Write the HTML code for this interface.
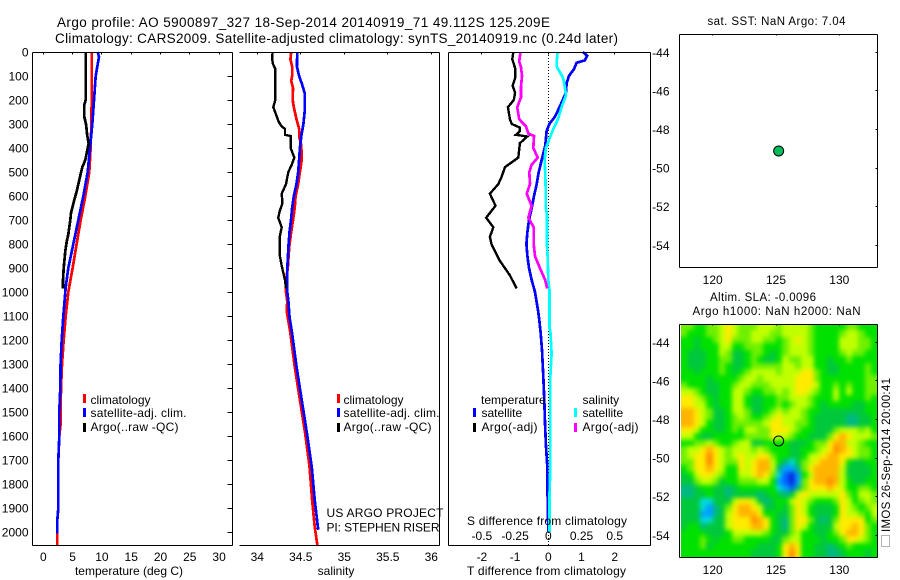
<!DOCTYPE html>
<html>
<head>
<meta charset="utf-8">
<title>Argo profile 5900897_327</title>
<style>
html,body{margin:0;padding:0;background:#fff;}
svg{display:block;}
text{font-family:"Liberation Sans",sans-serif;font-size:12px;fill:#000;}
.t{font-size:13.5px;}
.r{font-size:11.5px;}
</style>
</head>
<body>
<svg id="chart" xmlns="http://www.w3.org/2000/svg" width="900" height="580" viewBox="0 0 900 580">
<defs>
<clipPath id="heatClip"><rect x="681" y="325" width="196" height="232"/></clipPath>
<filter id="heatBlur" x="-10%" y="-10%" width="120%" height="120%" color-interpolation-filters="sRGB"><feGaussianBlur stdDeviation="2.4"/></filter>
</defs>
<rect x="0" y="0" width="900" height="580" fill="#fff"/>
<text class="t" x="57" y="27" textLength="493" lengthAdjust="spacing">Argo profile: AO 5900897_327 18-Sep-2014 20140919_71 49.112S 125.209E</text>
<text class="t" x="55" y="43" textLength="563" lengthAdjust="spacing">Climatology: CARS2009. Satellite-adjusted climatology: synTS_20140919.nc (0.24d later)</text>

<g clip-path="url(#heatClip)">
<g id="heat" filter="url(#heatBlur)"></g>
</g>
<g id="series"></g>
<g id="axes"></g>

<text x="129" y="575" text-anchor="middle">temperature (deg C)</text>
<text x="336" y="575" text-anchor="middle">salinity</text>
<text x="546.5" y="575" text-anchor="middle" textLength="159" lengthAdjust="spacing">T difference from climatology</text>
<text x="547" y="525" text-anchor="middle" textLength="160" lengthAdjust="spacing">S difference from climatology</text>

<g>
<rect x="83" y="394" width="3" height="9" fill="#f00"/>
<text x="90.5" y="404">climatology</text>
<rect x="83" y="408" width="3" height="9" fill="#00f"/>
<text x="90.5" y="417" textLength="96" lengthAdjust="spacing">satellite-adj. clim.</text>
<rect x="83" y="423" width="3" height="9" fill="#000"/>
<text x="90.5" y="431" textLength="88" lengthAdjust="spacing">Argo(..raw -QC)</text>
</g>
<g>
<rect x="337" y="394" width="3" height="9" fill="#f00"/>
<text x="343.5" y="404">climatology</text>
<rect x="337" y="408" width="3" height="9" fill="#00f"/>
<text x="343.5" y="417" textLength="96" lengthAdjust="spacing">satellite-adj. clim.</text>
<rect x="337" y="423" width="3" height="9" fill="#000"/>
<text x="343.5" y="431" textLength="88" lengthAdjust="spacing">Argo(..raw -QC)</text>
</g>
<g>
<text x="481" y="404">temperature</text>
<rect x="473" y="408" width="3" height="9" fill="#00f"/>
<text x="481.5" y="417">satellite</text>
<rect x="473" y="423" width="3" height="9" fill="#000"/>
<text x="481.5" y="431" textLength="56" lengthAdjust="spacing">Argo(-adj)</text>
<text x="582.5" y="404">salinity</text>
<rect x="574" y="408" width="3" height="9" fill="#0ff"/>
<text x="582.5" y="417">satellite</text>
<rect x="574" y="423" width="3" height="9" fill="#f0f"/>
<text x="582.5" y="431" textLength="56" lengthAdjust="spacing">Argo(-adj)</text>
</g>

<text x="326.5" y="517" textLength="117" lengthAdjust="spacing">US ARGO PROJECT</text>
<text x="326.5" y="531.5" textLength="113" lengthAdjust="spacing">PI: STEPHEN RISER</text>

<text class="r" x="707.5" y="25" textLength="138" lengthAdjust="spacing">sat. SST: NaN Argo: 7.04</text>
<text class="r" x="710" y="301" textLength="106" lengthAdjust="spacing">Altim. SLA: -0.0096</text>
<text class="r" x="692.5" y="315" textLength="168" lengthAdjust="spacing">Argo h1000: NaN h2000: NaN</text>

<rect x="881.5" y="535.5" width="8" height="11" fill="none" stroke="#666" stroke-width="1" stroke-dasharray="1 1" shape-rendering="crispEdges"/>
<text class="r" transform="translate(890,532) rotate(-90)" textLength="154" lengthAdjust="spacing">IMOS 26-Sep-2014 20:00:41</text>
</svg>

<script>
// ---- temperature profile data (deg C vs depth) ----
const tempClimDepth = [0,100,200,300,400,500,600,700,800,900,1000,1100,1200,1300,1400,1500,1550,1600,1700,1900,1950,2053];
const tempClim = [8.26,8.26,8.26,8.2,8.08,7.85,7.17,6.38,5.69,5.0,4.27,3.82,3.48,3.19,3.02,2.96,2.96,2.73,2.56,2.56,2.39,2.39];
const tempSatDepth = [0,20,100,200,300,400,500,600,700,800,900,980,1100,1200,1300,1400,1500,1600,1700,1900,1950,2005];
const tempSat = [9.28,9.5,8.94,8.65,8.37,7.97,7.57,6.83,5.97,5.12,4.27,3.82,3.42,3.14,2.96,2.9,2.73,2.73,2.56,2.56,2.39,2.39];
const tempArgoDepth = [0,200,220,270,300,350,380,450,480,520,580,620,670,700,760,790,830,900,950,985];
const tempArgo = [7.23,7.23,7.0,7.0,7.28,7.5,7.74,7.17,6.66,6.26,5.7,5.24,4.73,4.6,4.27,3.99,3.76,3.48,3.36,3.36];

// ---- salinity profile data ----
const salClimDepth = [0,30,60,100,120,150,200,230,280,320,350,390,450,500,550,600,650,700,750,800,850,900,950,1000,1040,1075,1172,1310,1449,1587,1726,1865,1976,2053];
const salClim = [34.39,34.38,34.40,34.40,34.39,34.41,34.407,34.42,34.45,34.48,34.48,34.506,34.51,34.49,34.47,34.44,34.43,34.41,34.39,34.37,34.36,34.35,34.33,34.33,34.345,34.337,34.38,34.43,34.49,34.55,34.6,34.63,34.66,34.69];
const salSatDepth = [0,60,100,130,170,250,300,350,400,450,500,550,600,650,700,750,800,900,1000,1033,1103,1172,1310,1449,1587,1726,1865,1990];
const salSat = [34.46,34.455,34.48,34.51,34.544,34.544,34.53,34.506,34.49,34.48,34.47,34.45,34.42,34.40,34.387,34.37,34.36,34.345,34.345,34.356,34.37,34.40,34.45,34.51,34.57,34.625,34.66,34.70];
const salArgoDepth = [0,30,50,70,200,230,260,290,310,320,345,350,400,440,470,500,550,590,630,660,690,730,770,850,890,950,985];
const salArgo = [34.176,34.17,34.18,34.207,34.207,34.184,34.215,34.245,34.28,34.318,34.318,34.383,34.383,34.425,34.395,34.356,34.33,34.28,34.29,34.26,34.24,34.28,34.257,34.26,34.28,34.318,34.33];

// ---- difference profile data ----
const dtSatDepth = [0,15,35,45,70,100,130,170,220,270,300,330,390,450,500,550,600,650,700,750,800,850,900,950,1000,1033,1075,1117,1172,1241,1352,1449,1546,1643,1726,1851,1997];
const dtSat = [1.04,1.17,1.1,0.85,0.78,0.62,0.55,0.53,0.37,0.2,0.03,-0.05,-0.09,-0.2,-0.29,-0.35,-0.43,-0.5,-0.58,-0.63,-0.66,-0.63,-0.58,-0.5,-0.4,-0.36,-0.31,-0.27,-0.23,-0.19,-0.15,-0.12,-0.10,-0.07,-0.03,-0.02,0];
const dtArgoDepth = [0,30,70,110,140,170,200,230,280,300,315,330,345,352,380,440,480,520,550,590,640,690,730,770,800,870,930,985];
const dtArgo = [-1.055,-1.085,-0.995,-1.0,-1.075,-1.0,-1.04,-1.216,-1.156,-1.1,-0.854,-0.854,-0.975,-0.633,-0.854,-0.905,-1.307,-1.407,-1.507,-1.76,-1.59,-1.87,-1.658,-1.76,-1.71,-1.457,-1.156,-0.955];
const dsSatDepth = [0,40,60,80,110,150,180,230,280,320,370,400,450,500,600,640,680,800,850,950,990,1150,1160,1255,1355,1730,1860,2000];
const dsSat = [0.07,0.063,0.063,0.083,0.113,0.126,0.133,0.1,0.073,0.038,0.003,-0.018,-0.028,-0.023,-0.018,-0.02,-0.01,-0.01,-0.005,0,0.008,0.008,0.015,0.025,0.015,0.015,0.008,0.008];
const dsArgoDepth = [0,40,60,100,150,190,230,280,310,340,350,400,440,470,500,550,590,640,690,730,800,850,900,950,985];
const dsArgo = [-0.209,-0.219,-0.206,-0.198,-0.206,-0.206,-0.234,-0.219,-0.168,-0.15,-0.108,-0.113,-0.08,-0.126,-0.143,-0.138,-0.163,-0.126,-0.15,-0.11,-0.11,-0.1,-0.063,-0.023,-0.008];

// ---- tick labels ----
const depthTicks = [0,100,200,300,400,500,600,700,800,900,1000,1100,1200,1300,1400,1500,1600,1700,1800,1900,2000];
const tempTicks = [0,5,10,15,20,25,30];
const salTicks = [34,34.5,35,35.5,36];
const dtTicks = [-2,-1,0,1,2];
const dtTopTicks = [-2,0,2];
const dsTicks = [-0.5,-0.25,0,0.25,0.5];
const lonTicks = [120,125,130];
const latTicks = [-44,-46,-48,-50,-52,-54];

// ---- float position ----
const floatLon = 125.209;
const floatLat = -49.112;

// ---- SLA map: colour level per cell, rows north to south, columns west to east ----
const slaLon0 = 117.5;
const slaLonStep = 0.5;
const slaLat0 = -43.05;
const slaLatStep = -1/3;
const slaGrid = [
[7,7,6,6,7,7,8,9,8,7,7,7,8,8,8,7,8,8,8,8,7,6,6,6,6,6,7,7,6,6,6],
[7,6,6,6,7,7,8,9,8,7,7,8,8,8,7,7,8,8,8,8,7,6,6,6,6,7,8,8,7,6,6],
[6,6,5,6,6,7,8,9,7,7,7,8,8,7,7,6,7,8,9,8,7,6,6,6,6,8,8,8,7,7,6],
[6,6,5,6,6,6,8,8,6,6,7,7,7,6,6,6,7,8,8,8,7,6,6,6,6,8,8,8,7,7,6],
[6,5,5,5,6,6,8,7,5,5,6,7,7,6,5,6,7,8,8,8,7,6,6,6,6,7,8,7,7,6,6],
[6,5,5,5,6,6,7,7,5,5,6,7,6,5,5,6,8,7,7,8,8,6,6,5,6,6,7,6,6,6,6],
[6,5,5,5,6,6,7,6,5,5,6,7,7,7,7,7,8,8,7,8,8,6,6,5,5,6,6,6,6,7,6],
[6,6,5,6,6,6,7,6,5,6,7,8,8,8,8,7,8,8,8,9,9,7,6,5,5,6,6,6,6,7,6],
[6,6,6,6,5,6,6,6,6,7,8,8,7,8,8,8,8,8,9,9,9,7,6,6,6,6,6,6,6,7,7],
[7,6,6,6,5,5,6,6,7,8,8,7,7,7,8,8,8,8,9,9,9,8,6,6,7,6,7,6,6,7,7],
[8,8,7,6,5,5,6,6,8,8,7,6,6,7,7,8,7,8,9,9,8,7,6,6,8,6,8,6,6,7,7],
[9,9,8,7,6,5,6,6,8,8,6,5,5,6,6,7,7,8,8,8,7,6,6,6,8,6,6,6,6,7,6],
[9,9,8,8,6,5,6,6,8,8,6,5,5,6,6,7,6,7,8,8,7,6,5,6,6,6,6,5,5,6,6],
[10,10,9,8,7,5,5,6,8,8,7,5,5,6,7,8,7,8,8,7,6,6,5,5,5,5,5,5,5,6,6],
[10,10,9,8,7,5,5,6,7,8,7,6,6,7,8,9,8,8,8,7,6,5,5,5,5,5,4,4,5,5,6],
[10,10,9,8,6,5,5,6,7,7,7,7,7,8,9,9,8,8,7,7,6,5,5,5,5,5,4,4,5,5,6],
[9,9,8,6,6,5,5,6,7,6,8,8,7,7,9,9,9,8,7,6,6,5,5,5,7,8,8,8,7,8,6],
[8,8,6,5,5,6,6,6,6,6,7,7,7,7,9,8,8,7,6,6,5,5,5,7,9,10,9,8,8,8,7],
[6,6,7,7,8,7,6,6,7,8,8,5,5,6,6,6,6,5,5,5,6,7,7,9,10,10,8,8,7,6,6],
[7,8,8,9,10,9,8,7,8,8,8,7,8,7,6,6,6,5,5,6,6,7,8,9,11,10,9,8,7,7,6],
[7,8,9,9,11,9,8,7,8,9,8,8,9,9,7,6,6,5,5,6,8,8,9,10,10,9,9,8,7,7,6],
[7,7,9,9,11,9,8,7,7,9,8,9,10,10,8,6,4,3,5,7,8,9,10,10,10,9,6,5,5,6,6],
[6,7,9,9,10,9,8,6,6,9,8,9,10,10,8,4,2,2,4,7,9,10,10,10,10,8,5,5,5,5,6],
[5,6,8,9,9,8,7,6,6,8,8,9,10,9,7,3,1,0,2,6,8,10,10,10,10,8,5,5,5,5,6],
[5,5,7,8,8,7,5,6,6,7,7,7,8,8,6,2,1,0,2,7,9,10,10,11,10,8,6,5,5,6,6],
[4,4,5,6,6,5,5,4,5,6,6,6,6,6,6,3,2,1,4,7,9,9,9,10,9,8,6,6,7,7,6],
[4,4,5,5,6,5,5,4,5,5,5,5,4,5,6,5,4,5,8,9,8,8,8,8,8,9,7,6,8,8,7],
[5,5,5,3,3,5,5,5,8,9,9,8,5,4,5,6,6,8,9,8,7,6,6,6,7,9,8,6,7,8,7],
[5,5,5,3,2,4,5,7,9,10,10,9,8,5,5,6,5,7,9,8,6,5,5,5,6,9,8,7,6,7,8],
[5,5,5,2,2,4,5,8,9,10,10,10,9,6,6,5,5,7,9,8,6,5,5,5,6,9,8,8,7,6,8],
[5,5,5,3,3,5,5,8,9,9,9,11,10,9,6,5,4,7,9,9,7,5,4,5,7,9,9,9,9,6,7],
[5,6,6,4,5,5,5,8,9,9,9,10,10,9,6,5,4,7,9,8,6,5,5,5,8,9,9,10,9,7,6],
[6,6,6,6,5,5,5,6,8,8,8,8,8,7,6,5,5,7,8,6,6,5,5,6,7,9,10,10,9,7,6],
[6,6,6,7,6,5,6,6,7,7,6,6,6,6,5,5,7,8,8,6,6,6,5,6,6,7,9,9,8,7,6],
[6,6,6,7,5,6,6,6,6,6,6,6,5,5,5,6,9,10,9,6,6,5,5,4,5,6,7,6,6,6,6],
[6,6,6,6,6,6,6,6,6,6,6,5,5,5,5,6,9,11,9,6,6,5,5,4,4,5,6,6,6,5,6]
];
const levelColors = ["#0a28dc","#0064ff","#00a0ff","#00dcdc","#00b982","#00c83c","#00e100","#6ef000","#c0ff00","#ffeb00","#ffb400","#ff8c00"];

// ---- axis functions ----
const NS = "http://www.w3.org/2000/svg";
const PT = 52, PB = 545;
const yDepth = d => 52 + d * 0.2401;
const xTemp = t => 43.3 + t * 5.86;
const xSal = s => 257.3 + (s - 34) * 87;
const xDT = t => 548.3 + t * 33.2;
const xDS = s => 548.3 + s * 132.8;
const xLon = l => 712.7 + (l - 120) * 12.66;
const ySST = l => 52.3 + (-44 - l) * 19.3;
const ySLA = l => 342.3 + (-44 - l) * 19.3;

const axesG = document.getElementById("axes");
const seriesG = document.getElementById("series");
const heatG = document.getElementById("heat");

function addLine(x1, y1, x2, y2, name) {
  const el = document.createElementNS(NS, "line");
  el.setAttribute("x1", Math.floor(x1) + 0.5);
  el.setAttribute("y1", Math.floor(y1) + 0.5);
  el.setAttribute("x2", Math.floor(x2) + 0.5);
  el.setAttribute("y2", Math.floor(y2) + 0.5);
  el.setAttribute("stroke", "#000");
  el.setAttribute("stroke-width", "1");
  el.setAttribute("shape-rendering", "crispEdges");
  
  
  axesG.appendChild(el);
}
function addLabel(x, y, str, anchor, name, cls) {
  const el = document.createElementNS(NS, "text");
  el.setAttribute("x", x);
  el.setAttribute("y", y);
  el.setAttribute("text-anchor", anchor);
  if (cls) el.setAttribute("class", cls);
  el.textContent = str;
  
  
  axesG.appendChild(el);
}
function addSeries(depths, values, xf, color, width, name) {
  const el = document.createElementNS(NS, "polyline");
  const pts = depths.map((d, i) => xf(values[i]).toFixed(1) + "," + yDepth(d).toFixed(1));
  el.setAttribute("points", pts.join(" "));
  el.setAttribute("fill", "none");
  el.setAttribute("stroke", color);
  el.setAttribute("stroke-width", width);
  el.setAttribute("shape-rendering", "crispEdges");
  
  
  seriesG.appendChild(el);
}

// heatmap cells (edge cells overhang the clip so the smoothing does not fade at the border)
const xCell = i => xLon(slaLon0 + i * slaLonStep);
const yCell = j => ySLA(slaLat0 + j * slaLatStep);
slaGrid.forEach((row, j) => {
  row.forEach((level, i) => {
    const el = document.createElementNS(NS, "rect");
    const x0 = Math.round(xCell(i)) - (i === 0 ? 12 : 0);
    const x1 = Math.round(xCell(i + 1)) + (i === row.length - 1 ? 12 : 0);
    const y0 = Math.round(yCell(j)) - (j === 0 ? 12 : 0);
    const y1 = Math.round(yCell(j + 1)) + (j === slaGrid.length - 1 ? 12 : 0);
    el.setAttribute("x", x0);
    el.setAttribute("y", y0);
    el.setAttribute("width", x1 - x0);
    el.setAttribute("height", y1 - y0);
    el.setAttribute("fill", levelColors[level]);
    el.setAttribute("shape-rendering", "crispEdges");
    
    
    heatG.appendChild(el);
  });
});

// zero line of difference panel
const zeroLine = document.createElementNS(NS, "line");
zeroLine.setAttribute("x1", 548.5);
zeroLine.setAttribute("x2", 548.5);
zeroLine.setAttribute("y1", PT);
zeroLine.setAttribute("y2", PB);
zeroLine.setAttribute("stroke", "#000");
zeroLine.setAttribute("stroke-width", "1");
zeroLine.setAttribute("stroke-dasharray", "1 2");
zeroLine.setAttribute("shape-rendering", "crispEdges");


seriesG.appendChild(zeroLine);

// profile series
addSeries(tempClimDepth, tempClim, xTemp, "#f00", 2.7, "temperature-climatology-line");
addSeries(tempSatDepth, tempSat, xTemp, "#00f", 2.7, "temperature-satellite-line");
addSeries(tempArgoDepth, tempArgo, xTemp, "#000", 2.7, "temperature-argo-line");
addSeries(salClimDepth, salClim, xSal, "#f00", 2.7, "salinity-climatology-line");
addSeries(salSatDepth, salSat, xSal, "#00f", 2.7, "salinity-satellite-line");
addSeries(salArgoDepth, salArgo, xSal, "#000", 2.4, "salinity-argo-line");
addSeries(dtSatDepth, dtSat, xDT, "#00f", 2.7, "t-difference-satellite-line");
addSeries(dtArgoDepth, dtArgo, xDT, "#000", 2.4, "t-difference-argo-line");
addSeries(dsSatDepth, dsSat, xDS, "#0ff", 2.7, "s-difference-satellite-line");
addSeries(dsArgoDepth, dsArgo, xDS, "#f0f", 2.7, "s-difference-argo-line");

// panel frames
addLine(32, PT, 232, PT, "temperature-top-axis");
addLine(32, PB, 232, PB, "temperature-bottom-axis");
addLine(32, PT, 32, PB, "temperature-left-axis");
addLine(232, PT, 232, PB, "temperature-right-axis");
addLine(239, PT, 439, PT, "salinity-top-axis");
addLine(239, PB, 439, PB, "salinity-bottom-axis");
addLine(439, PT, 439, PB, "salinity-right-axis");
addLine(448, PT, 650, PT, "difference-top-axis");
addLine(448, PB, 650, PB, "difference-bottom-axis");
addLine(448, PT, 448, PB, "difference-left-axis");
addLine(650, PT, 650, PB, "difference-right-axis");

// depth ticks
depthTicks.forEach(d => {
  addLine(227, yDepth(d), 232, yDepth(d), "depth-tick");
  addLabel(28.5, yDepth(d) + 4.5, String(d), "end", "depth-tick-label");
});
// x ticks
tempTicks.forEach(v => {
  addLine(xTemp(v), PT, xTemp(v), PT + 2, "temperature-tick");
  addLabel(xTemp(v), 561, String(v), "middle", "temperature-tick-label");
});
salTicks.forEach(v => {
  addLine(xSal(v), PT, xSal(v), PT + 2, "salinity-tick");
  addLabel(xSal(v), 561, String(v), "middle", "salinity-tick-label");
});
dtTicks.forEach(v => {
  addLabel(xDT(v), 561, String(v), "middle", "t-difference-tick-label");
});
dtTopTicks.forEach(v => {
  addLine(xDT(v), PT, xDT(v), PT + 2, "t-difference-tick");
});
dsTicks.forEach(v => {
  addLabel(xDS(v), 540, String(v), "middle", "s-difference-tick-label");
});

// map panels
[[34, 267, ySST, 284, "sst"], [324, 557, ySLA, 574, "sla"]].forEach(p => {
  const top = p[0], bot = p[1], yf = p[2], lab = p[3], nm = p[4];
  addLine(679, top, 877, top, nm + "-top-axis");
  addLine(679, bot, 877, bot, nm + "-bottom-axis");
  addLine(679, top, 679, bot, nm + "-left-axis");
  addLine(877, top, 877, bot, nm + "-right-axis");
  lonTicks.forEach(v => {
    addLine(xLon(v), top, xLon(v), top + 1, nm + "-lon-tick");
    addLabel(xLon(v), lab, String(v), "middle", nm + "-lon-tick-label");
  });
  latTicks.forEach(v => {
    addLine(875, yf(v), 877, yf(v), nm + "-lat-tick");
    addLabel(669.5, yf(v) + 4.5, String(v), "end", nm + "-lat-tick-label");
  });
});

// float position markers
const sstDot = document.createElementNS(NS, "circle");
sstDot.setAttribute("cx", xLon(floatLon));
sstDot.setAttribute("cy", ySST(floatLat));
sstDot.setAttribute("r", 5);
sstDot.setAttribute("fill", "#00be5a");
sstDot.setAttribute("stroke", "#000");
sstDot.setAttribute("stroke-width", 1);


axesG.appendChild(sstDot);

const slaDot = document.createElementNS(NS, "circle");
slaDot.setAttribute("cx", xLon(floatLon));
slaDot.setAttribute("cy", ySLA(floatLat));
slaDot.setAttribute("r", 5);
slaDot.setAttribute("fill", "none");
slaDot.setAttribute("stroke", "#000");
slaDot.setAttribute("stroke-width", 1);


axesG.appendChild(slaDot);
</script>
</body>
</html>
